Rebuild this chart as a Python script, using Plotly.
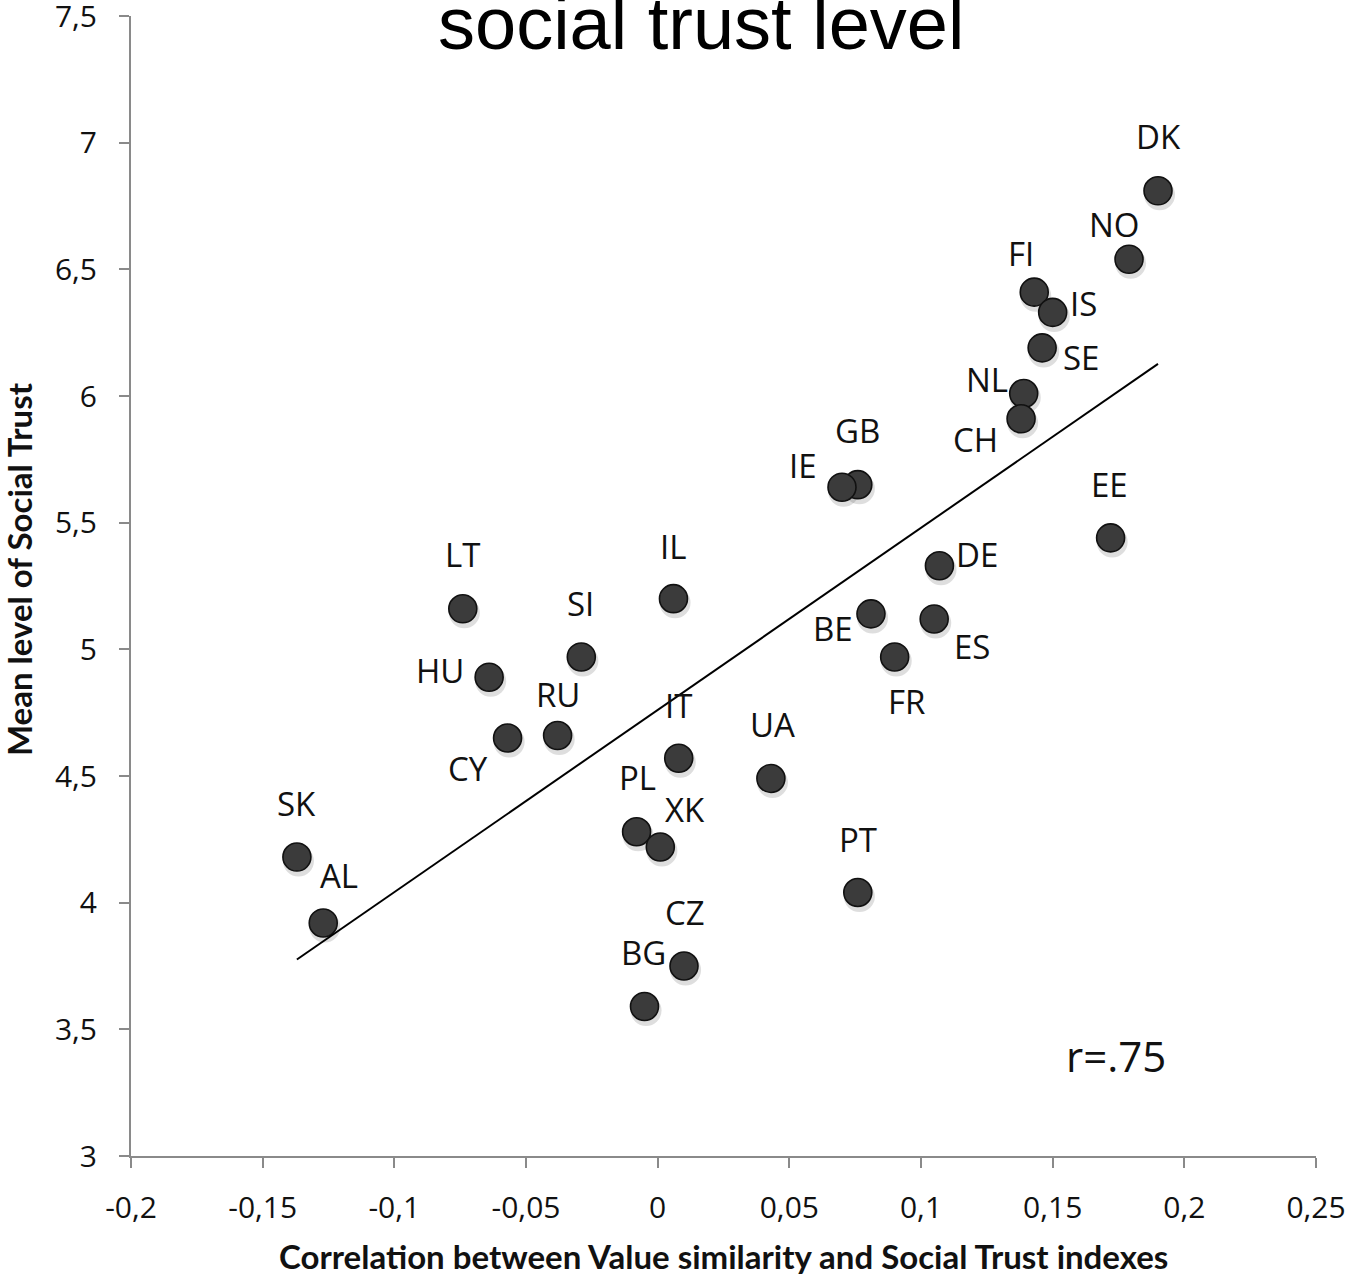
import numpy as np
import plotly.graph_objects as go

# Country codes and their values
countries = ["DK", "NO", "FI", "IS", "SE", "NL", "CH", "GB", "IE", "EE",
             "DE", "BE", "ES", "FR", "IL", "LT", "SI", "HU", "RU", "CY",
             "IT", "UA", "PL", "XK", "SK", "AL", "CZ", "BG", "PT"]
value_similarity = [0.190, 0.179, 0.143, 0.150, 0.146, 0.139, 0.138, 0.076, 0.070, 0.172,
                    0.107, 0.081, 0.105, 0.090, 0.006, -0.074, -0.029, -0.064, -0.038, -0.057,
                    0.008, 0.043, -0.008, 0.001, -0.137, -0.127, 0.010, -0.005, 0.076]
social_trust = [6.81, 6.54, 6.41, 6.33, 6.19, 6.01, 5.91, 5.65, 5.64, 5.44,
                5.33, 5.14, 5.12, 4.97, 5.20, 5.16, 4.97, 4.89, 4.66, 4.65,
                4.57, 4.49, 4.28, 4.22, 4.18, 3.92, 3.75, 3.59, 4.04]

x_ticks = [-0.2, -0.15, -0.1, -0.05, 0, 0.05, 0.1, 0.15, 0.2, 0.25]
x_ticktext = ["-0,2", "-0,15", "-0,1", "-0,05", "0", "0,05", "0,1", "0,15", "0,2", "0,25"]
y_ticks = [3, 3.5, 4, 4.5, 5, 5.5, 6, 6.5, 7, 7.5]
y_ticktext = ["3", "3,5", "4", "4,5", "5", "5,5", "6", "6,5", "7", "7,5"]

title_text = "social trust level"
x_title = "Correlation between Value similarity and Social Trust indexes"
y_title = "Mean level of Social Trust"
r_text = "r=.75"

# label placement relative to each dot, in pixels (dx right, dy down)
label_offsets = {
    "DK": (0, -54), "NO": (-15, -35), "FI": (-13, -39), "IS": (31, -9),
    "SE": (39, 10), "NL": (-37, -14), "CH": (-46, 21), "GB": (0, -54),
    "IE": (-39, -22), "EE": (-1, -53), "DE": (38, -11), "BE": (-38, 15),
    "ES": (38, 28), "FR": (12, 45), "IL": (0, -52), "LT": (0, -54),
    "SI": (-1, -53), "HU": (-49, -7), "RU": (0, -41), "CY": (-40, 30),
    "IT": (0, -53), "UA": (2, -54), "PL": (1, -54), "XK": (25, -37),
    "SK": (0, -54), "AL": (16, -47), "CZ": (1, -54), "BG": (-1, -54),
    "PT": (0, -53),
}

xs = np.array(value_similarity)
ys = np.array(social_trust)

# least-squares trend line across the observed range
slope, intercept = np.polyfit(xs, ys, 1)
trend_x = np.array([xs.min(), xs.max()])
trend_y = slope * trend_x + intercept

LABEL_FONT = "Open Sans, Noto Sans, sans-serif"

fig = go.Figure()

# soft drop shadow under the dots
fig.add_trace(go.Scatter(
    x=xs + 0.0006, y=ys - 0.016, mode="markers",
    marker=dict(size=31, color="rgba(0,0,0,0.13)", line=dict(width=0)),
    hoverinfo="skip", showlegend=False,
))
fig.add_trace(go.Scatter(
    x=xs, y=ys, mode="markers", text=countries,
    marker=dict(size=28, color="#3b3b3b", line=dict(width=1.6, color="#111111")),
    showlegend=False,
))
fig.add_trace(go.Scatter(
    x=trend_x, y=trend_y, mode="lines",
    line=dict(color="#000000", width=2),
    hoverinfo="skip", showlegend=False,
))

annotations = []
for c, x, y in zip(countries, value_similarity, social_trust):
    dx, dy = label_offsets[c]
    annotations.append(dict(
        x=x, y=y, xref="x", yref="y", text=c, showarrow=False,
        xshift=dx, yshift=-dy, xanchor="center", yanchor="middle",
        font=dict(family=LABEL_FONT, size=33, color="#111111"),
    ))

annotations.append(dict(
    x=0.481, y=0.955, xref="paper", yref="paper", text=title_text,
    showarrow=False, xanchor="center", yanchor="bottom",
    font=dict(family="Liberation Sans, Arial, sans-serif", size=74, color="#000000"),
))
annotations.append(dict(
    x=0.5, y=-0.088, xref="paper", yref="paper", text="<b>" + x_title + "</b>",
    showarrow=False, xanchor="center", yanchor="middle",
    font=dict(family="Lato, sans-serif", size=33, color="#111111"),
))
annotations.append(dict(
    x=-0.094, y=0.5145, xref="paper", yref="paper", text="<b>" + y_title + "</b>",
    showarrow=False, xanchor="center", yanchor="middle", textangle=-90,
    font=dict(family="Lato, sans-serif", size=33, color="#111111"),
))
annotations.append(dict(
    x=0.174, y=3.5, xref="x", yref="y", text=r_text, showarrow=False,
    xanchor="center", yanchor="middle", yshift=-26,
    font=dict(family=LABEL_FONT, size=42, color="#111111"),
))

axis_common = dict(
    showgrid=False, zeroline=False, showline=True, linecolor="#8a8a8a", linewidth=2,
    ticks="outside", ticklen=10, tickwidth=2, tickcolor="#8a8a8a",
    tickfont=dict(family=LABEL_FONT, size=30, color="#111111"),
    automargin=False, ticklabeloverflow="allow",
)

fig.update_layout(
    width=1345, height=1275, autosize=False,
    margin=dict(l=131, r=29, t=16, b=119),
    paper_bgcolor="white", plot_bgcolor="white",
    xaxis=dict(range=[-0.2, 0.25], tickvals=x_ticks, ticktext=x_ticktext,
               ticklabelstandoff=14, **axis_common),
    yaxis=dict(range=[3, 7.5], tickvals=y_ticks, ticktext=y_ticktext,
               ticklabelstandoff=16, **axis_common),
    annotations=annotations,
)

fig.write_html("out.html")
